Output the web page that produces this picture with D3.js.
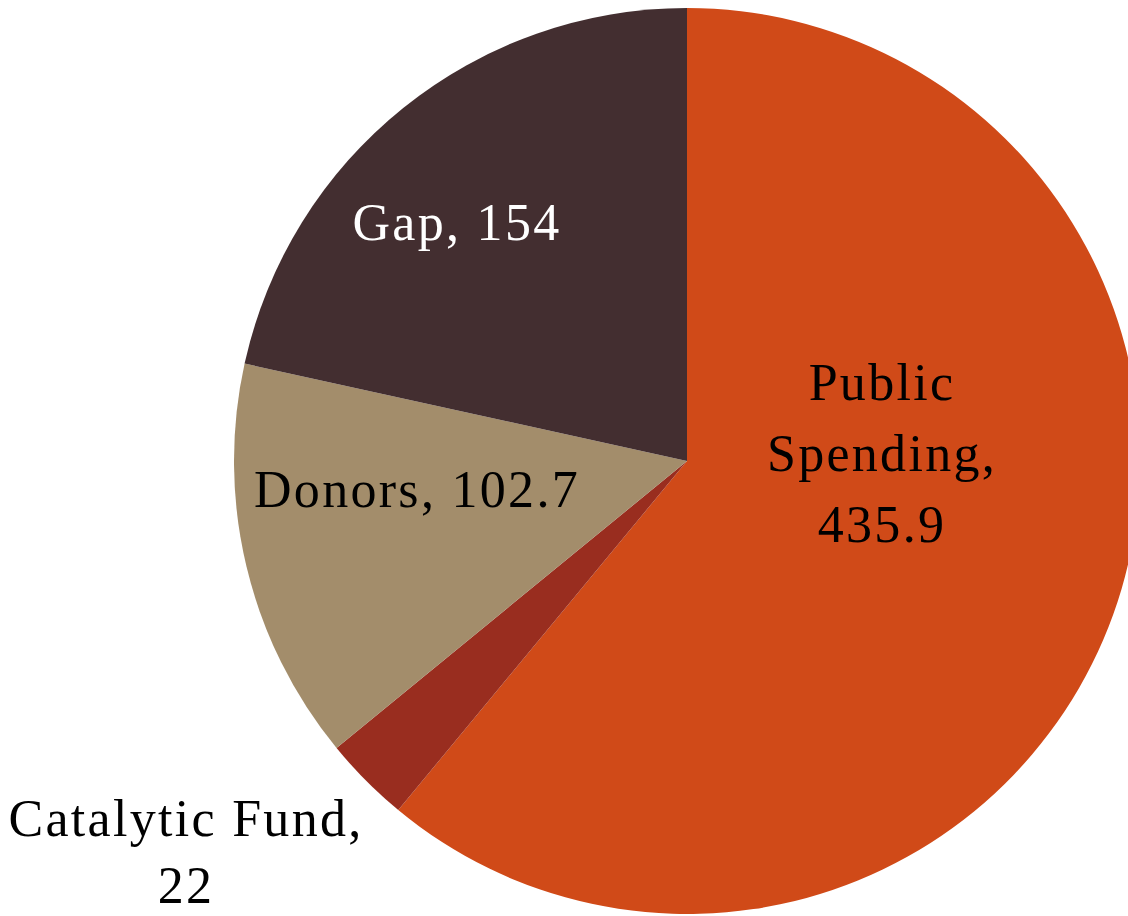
<!DOCTYPE html>
<html>
<head>
<meta charset="utf-8">
<script src="https://cdn.jsdelivr.net/npm/d3@7"></script>
<style>
  html, body { margin: 0; padding: 0; background: #fff; }
  svg { display: block; }
</style>
</head>
<body>
<div id="chart"></div>
<script>
const CATEGORIES = ['Public Spending', 'Catalytic Fund', 'Donors', 'Gap'];
const VALUES = [435.9, 22, 102.7, 154];
const COLORS = ['#d04a18', '#992d1f', '#a38d6b', '#432e30'];

const WIDTH = 1128;
const HEIGHT = 916;
const CX = 687;
const CY = 461;
const RADIUS = 453;
const FONT = '"Liberation Serif", "DejaVu Serif", serif';

const data = CATEGORIES.map((name, i) => ({ name, value: VALUES[i], color: COLORS[i] }));

const svg = d3.select('#chart')
  .append('svg')
  .attr('width', WIDTH)
  .attr('height', HEIGHT);

const pie = d3.pie().value(d => d.value).sort(null);
const arc = d3.arc().innerRadius(0).outerRadius(RADIUS);
const arcs = pie(data);

const g = svg.append('g').attr('transform', `translate(${CX},${CY})`);

g.selectAll('path')
  .data(arcs)
  .join('path')
  .attr('d', arc)
  .attr('fill', d => d.data.color);

// label placement: line breaks and offsets chosen per slice to match the original
const labelSpec = {
  'Public Spending': { lines: ['Public', 'Spending,', '435.9'], x: 195, y: -61, step: 71, fill: '#000' },
  'Catalytic Fund': { lines: ['Catalytic Fund,', '22'], x: -501, y: 375, step: 67, fill: '#000' },
  'Donors': { lines: ['Donors, 102.7'], x: -270, y: 46, step: 71, fill: '#000' },
  'Gap': { lines: ['Gap, 154'], x: -230, y: -221, step: 71, fill: '#fff' }
};

arcs.forEach(a => {
  const spec = labelSpec[a.data.name];
  const t = g.append('text')
    .attr('x', spec.x)
    .attr('y', spec.y)
    .attr('text-anchor', 'middle')
    .attr('font-family', FONT)
    .attr('font-size', 52)
    .attr('letter-spacing', 2.3)
    .attr('fill', spec.fill);
  spec.lines.forEach((line, i) => {
    t.append('tspan')
      .attr('x', spec.x)
      .attr('dy', i === 0 ? 0 : spec.step)
      .text(line);
  });
});
</script>
</body>
</html>
